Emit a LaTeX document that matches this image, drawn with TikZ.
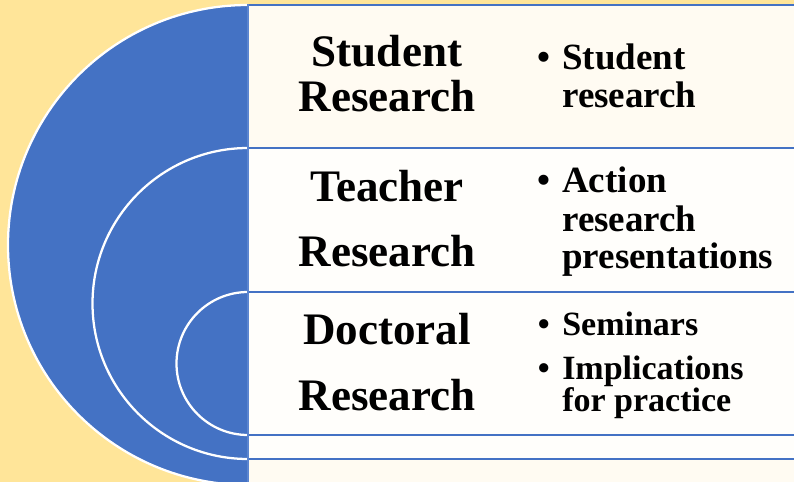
\documentclass[tikz,border=0pt]{standalone}
\usepackage{fontspec}
\setmainfont{Liberation Serif}
\usetikzlibrary{positioning}
\definecolor{panelBlue}{HTML}{4472C4}
\definecolor{edgeBlue}{HTML}{5B85D0}
\definecolor{sandBg}{HTML}{FFE599}
\definecolor{creamFill}{HTML}{FFFBF2}
\definecolor{paleFill}{HTML}{FFFEFB}
\tikzset{
    rowLine/.style={draw=panelBlue, line width=2.2pt},
    arcLine/.style={draw=white, line width=1.7pt},
    titleText/.style={font=\fontsize{33.8}{33.8}\selectfont\bfseries, inner sep=0pt, anchor=base},
    itemText/.style={font=\fontsize{27.75}{27.75}\selectfont\bfseries, inner sep=0pt, anchor=base west},
    smallItem/.style={font=\fontsize{25.5}{25.5}\selectfont\bfseries, inner sep=0pt, anchor=base west},
}
\newcommand{\drawBand}[3]{
    \fill[#1] (248,#2) rectangle (794,#3);
}
\newcommand{\drawTitle}[3]{
    \node[titleText] (#1) at (387,#2) {#3};
}
\newcommand{\drawItem}[4][itemText]{
    \node[#1] (#2) at (562,#3) {#4};
}
\newcommand{\drawBullet}[3][itemText]{
    \node[#1] (#2) at (537.5,#3) {\textbullet};
}

\begin{document}
\begin{tikzpicture}[x=0.75pt, y=-0.75pt]
        \useasboundingbox (0,0) rectangle (794,482);
        \fill[sandBg] (0,0) rectangle (794,482);

        % bands of the panel
        \drawBand{creamFill}{5}{148}
        \drawBand{paleFill}{148}{292}
        \drawBand{paleFill}{292}{435}
        \drawBand{paleFill}{435}{459}
        \drawBand{creamFill}{459}{482}

        % half discs
        \begin{scope}
            \clip (0,0) rectangle (248,482);
            \fill[panelBlue] (248,245) circle[radius=240];
            \draw[arcLine] (248,245) circle[radius=240];
            \draw[arcLine] (248,303.5) circle[radius=155.5];
            \draw[arcLine] (248,363.5) circle[radius=71.5];
        \end{scope}

        \foreach \y in {5,148,292,435,459}
            \draw[rowLine] (248,\y) -- (794,\y);
        \draw[draw=edgeBlue, line width=2.2pt] (248,4) -- (248,482);

        \drawTitle{studentA}{66.7}{Student}
        \drawTitle{studentB}{111.7}{Research}
        \drawTitle{teacherA}{201}{Teacher}
        \drawTitle{teacherB}{266.7}{Research}
        \drawTitle{doctoralA}{344.3}{Doctoral}
        \drawTitle{doctoralB}{410}{Research}

        \drawBullet{bulStudent}{69}
        \drawItem{itemStudentA}{69}{Student}
        \drawItem{itemStudentB}{107}{research}
        \drawBullet{bulAction}{192.7}
        \drawItem{itemActionA}{192.7}{Action}
        \drawItem{itemActionB}{231.7}{research}
        \drawItem{itemActionC}{268}{presentations}
        \drawBullet[smallItem]{bulSeminar}{335}
        \drawItem[smallItem]{itemSeminar}{335}{Seminars}
        \drawBullet[smallItem]{bulImpl}{379.3}
        \drawItem[smallItem]{itemImplA}{379.3}{Implications}
        \drawItem[smallItem]{itemImplB}{411}{for practice}
    \end{tikzpicture}
\end{document}
